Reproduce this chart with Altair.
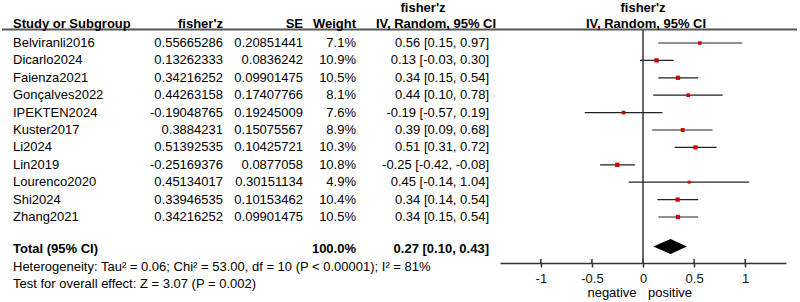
import altair as alt
import pandas as pd

# ---------------- data ----------------
studies = ["Belviranli2016", "Dicarlo2024", "Faienza2021", "Gonçalves2022", "IPEKTEN2024",
           "Kuster2017", "Li2024", "Lin2019", "Lourenco2020", "Shi2024", "Zhang2021"]
z_text = ["0.55665286", "0.13262333", "0.34216252", "0.44263158", "-0.19048765",
          "0.3884231", "0.51392535", "-0.25169376", "0.45134017", "0.33946535", "0.34216252"]
se_text = ["0.20851441", "0.0836242", "0.09901475", "0.17407766", "0.19245009",
           "0.15075567", "0.10425721", "0.0877058", "0.30151134", "0.10153462", "0.09901475"]
weights = [7.1, 10.9, 10.5, 8.1, 7.6, 8.9, 10.3, 10.8, 4.9, 10.4, 10.5]
ci_lo = [0.15, -0.03, 0.15, 0.10, -0.57, 0.09, 0.31, -0.42, -0.14, 0.14, 0.15]
ci_hi = [0.97, 0.30, 0.54, 0.78, 0.19, 0.68, 0.72, -0.08, 1.04, 0.54, 0.54]

total_est, total_lo, total_hi = 0.27, 0.10, 0.43
total_weight = "100.0%"
heterogeneity = "Heterogeneity: Tau² = 0.06; Chi² = 53.00, df = 10 (P < 0.00001); I² = 81%"
overall = "Test for overall effect: Z = 3.07 (P = 0.002)"
tick_values = [-1, -0.5, 0, 0.5, 1]

# ---------------- build tables ----------------
est = [float(v) for v in z_text]
ci_text = [f"{e:.2f} [{l:.2f}, {h:.2f}]" for e, l, h in zip(est, ci_lo, ci_hi)]
df = pd.DataFrame({
    "row": list(range(len(studies))),
    "study": studies,
    "z": z_text,
    "se": se_text,
    "weight": weights,
    "wtxt": [f"{w:.1f}%" for w in weights],
    "est": est,
    "lo": ci_lo,
    "hi": ci_hi,
    "ci": ci_text,
})

TOTAL_ROW = 11.85
DIAMOND_ROW = 11.7
HALF_H = 0.43
diamond = pd.DataFrame({
    "x": [total_lo, total_est, total_hi],
    "top": [DIAMOND_ROW, DIAMOND_ROW - HALF_H, DIAMOND_ROW],
    "bot": [DIAMOND_ROW, DIAMOND_ROW + HALF_H, DIAMOND_ROW],
})
total_df = pd.DataFrame({
    "row": [TOTAL_ROW],
    "name": ["Total (95% CI)"],
    "w": [total_weight],
    "ci": [f"{total_est:.2f} [{total_lo:.2f}, {total_hi:.2f}]"],
})
ticks_df = pd.DataFrame({"t": tick_values})
zero_df = pd.DataFrame({"x": [0]})

FONT = "Liberation Sans"
FS = 13

xs = alt.Scale(domain=[-1.4, 1.4], range=[500, 786], nice=False, zero=False)
ys = alt.Scale(domain=[0, 10], range=[43, 217], nice=False, zero=False)
xaxis = alt.Axis(values=tick_values, labelExpr="'' + datum.value", title=None, grid=False,
                 tickSize=4, tickColor="#333", tickWidth=1.5, domainColor="#333", domainWidth=1.5,
                 labelFont=FONT, labelFontSize=FS, labelColor="#111", labelPadding=5)


def X(field):
    return alt.X(field, type="quantitative", scale=xs, axis=xaxis)


def Y(field):
    return alt.Y(field, type="quantitative", scale=ys, axis=None)


def txt(s, x, y, align="left", bold=False):
    return alt.Chart(pd.DataFrame({"t": [s]})).mark_text(
        align=align, baseline="middle", font=FONT, fontSize=FS,
        fontWeight="bold" if bold else "normal", color="#000"
    ).encode(x=alt.value(x), y=alt.value(y), text="t:N")


def col(field, x, align, data=df, bold=False):
    return alt.Chart(data).mark_text(
        align=align, baseline="middle", font=FONT, fontSize=FS,
        fontWeight="bold" if bold else "normal", color="#000"
    ).encode(x=alt.value(x), y=Y("row"), text=f"{field}:N")


header_rule = alt.Chart(pd.DataFrame({"a": [0]})).mark_rule(color="#555", strokeWidth=2).encode(
    x=alt.value(2), x2=alt.value(797), y=alt.value(29.5))

zero_line = alt.Chart(zero_df).mark_rule(color="#555", strokeWidth=1.8).encode(
    x=X("x"), y=alt.value(30), y2=alt.value(263))

ci_lines = alt.Chart(df).mark_rule(color="#222", strokeWidth=1.2).encode(
    x=X("lo"), x2="hi", y=Y("row"))

squares = alt.Chart(df).mark_square(color="#d40000", opacity=1).encode(
    x=X("est"), y=Y("row"),
    size=alt.Size("weight:Q", scale=alt.Scale(domain=[0, 11], range=[0, 19]), legend=None))

diamond_mark = alt.Chart(diamond).mark_area(color="#000", opacity=1).encode(
    x=X("x"), y=Y("top"), y2="bot")

tick_up = alt.Chart(ticks_df).mark_rule(color="#333", strokeWidth=1.5).encode(
    x=X("t"), y=alt.value(259), y2=alt.value(263))

layers = [
    header_rule, zero_line, ci_lines, squares, diamond_mark, tick_up,
    # headers
    txt("Study or Subgroup", 13, 24, "left", True),
    txt("fisher'z", 223, 24, "right", True),
    txt("SE", 303, 24, "right", True),
    txt("Weight", 356, 24, "right", True),
    txt("fisher'z", 423, 8, "center", True),
    txt("IV, Random, 95% CI", 436, 24, "center", True),
    txt("fisher'z", 643, 8, "center", True),
    txt("IV, Random, 95% CI", 646, 24, "center", True),
    # table columns
    col("study", 13, "left"),
    col("z", 223, "right"),
    col("se", 303, "right"),
    col("wtxt", 356, "right"),
    col("ci", 489, "right"),
    # totals
    col("name", 13, "left", total_df, True),
    col("w", 356, "right", total_df, True),
    col("ci", 489, "right", total_df, True),
    txt(heterogeneity, 13, 267, "left"),
    txt(overall, 13, 284, "left"),
    txt("negative", 612, 293, "center"),
    txt("positive", 670, 293, "center"),
]

chart = alt.layer(*layers).properties(
    width=800, height=263,
    padding={"left": 0, "right": 0, "top": 0, "bottom": 39},
    autosize=alt.AutoSizeParams(type="none"),
    background="white",
).configure_view(stroke=None)

chart.save("out.html", embed_options={"renderer": "svg", "actions": False})
